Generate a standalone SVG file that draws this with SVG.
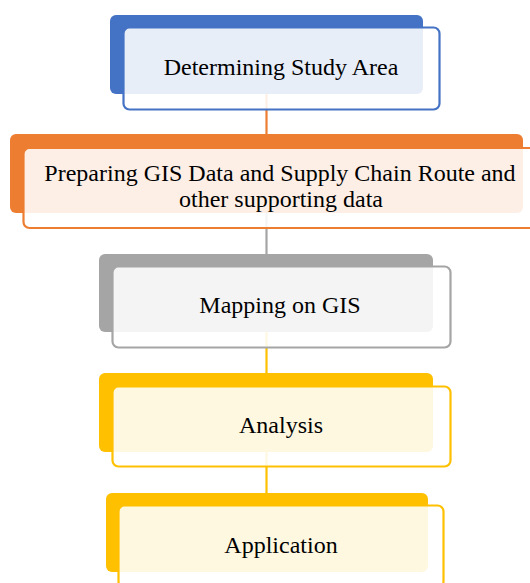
<svg xmlns="http://www.w3.org/2000/svg" width="530" height="583" viewBox="0 0 530 583">
<style>
.t{font-family:"Liberation Serif","Times New Roman",serif;font-size:24px;fill:#000;text-anchor:middle}
.fr{fill:#fff;fill-opacity:0.88;stroke-width:2.2}
.c{stroke-width:2.2;fill:none}
</style>
<rect width="530" height="583" fill="#fff"/>
<g id="connectors">
<line class="c" x1="266.5" y1="90" x2="266.5" y2="140" stroke="#ED7D31"/>
<line class="c" x1="266.5" y1="210" x2="266.5" y2="260" stroke="#A5A5A5"/>
<line class="c" x1="266.5" y1="330" x2="266.5" y2="380" stroke="#FFC000"/>
<line class="c" x1="266.5" y1="450" x2="266.5" y2="500" stroke="#FFC000"/>
</g>
<g id="n1">
<rect x="110" y="15" width="313" height="79" rx="6" fill="#4472C4"/>
<rect class="fr" x="123.5" y="27.5" width="316" height="82" rx="6" stroke="#4472C4"/>
<text class="t" x="281" y="75">Determining Study Area</text>
</g>
<g id="n2">
<rect x="10" y="134" width="513" height="79" rx="6" fill="#ED7D31"/>
<rect class="fr" x="23.5" y="148" width="520" height="80" rx="6" stroke="#ED7D31"/>
<text class="t" x="280" y="181">Preparing GIS Data and Supply Chain Route and</text>
<text class="t" x="281" y="207">other supporting data</text>
</g>
<g id="n3">
<rect x="99" y="254" width="334" height="78" rx="6" fill="#A5A5A5"/>
<rect class="fr" x="112.5" y="266.5" width="338" height="81" rx="6" stroke="#A5A5A5"/>
<text class="t" x="280" y="313">Mapping on GIS</text>
</g>
<g id="n4">
<rect x="99" y="373" width="334" height="79" rx="6" fill="#FFC000"/>
<rect class="fr" x="112.5" y="386.5" width="338" height="80" rx="6" stroke="#FFC000"/>
<text class="t" x="281" y="433">Analysis</text>
</g>
<g id="n5">
<rect x="106" y="493" width="322" height="79" rx="6" fill="#FFC000"/>
<rect class="fr" x="118.5" y="505.5" width="325" height="82" rx="6" stroke="#FFC000"/>
<text class="t" x="281" y="553">Application</text>
</g>
</svg>
